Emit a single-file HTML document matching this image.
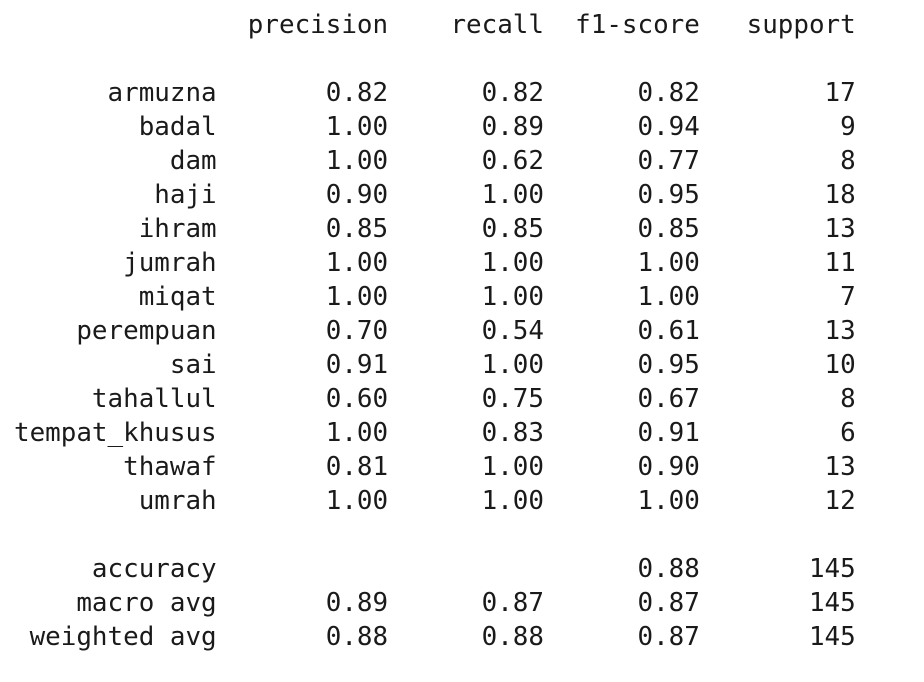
<!DOCTYPE html>
<html>
<head>
<meta charset="utf-8">
<style>
  html, body { margin: 0; padding: 0; background: #ffffff; }
  body { width: 924px; height: 682px; overflow: hidden; position: relative; }
  #report {
    position: absolute; left: 14px; top: 8px; margin: 0;
    font-family: "DejaVu Sans Mono", "Liberation Mono", monospace;
    font-size: 25.9px; line-height: 34px; color: #1a1a1a; white-space: pre;
  }
  .line { display: block; height: 34px; }
</style>
</head>
<body>
<pre id="report"></pre>
<script>
const classes = ["armuzna","badal","dam","haji","ihram","jumrah","miqat","perempuan","sai","tahallul","tempat_khusus","thawaf","umrah"];
const precision = [0.82,1.00,1.00,0.90,0.85,1.00,1.00,0.70,0.91,0.60,1.00,0.81,1.00];
const recall = [0.82,0.89,0.62,1.00,0.85,1.00,1.00,0.54,1.00,0.75,0.83,1.00,1.00];
const f1 = [0.82,0.94,0.77,0.95,0.85,1.00,1.00,0.61,0.95,0.67,0.91,0.90,1.00];
const support = [17,9,8,18,13,11,7,13,10,8,6,13,12];
const headers = ["precision","recall","f1-score","support"];
const summaryNames = ["macro avg","weighted avg"];
const summaryPrecision = [0.89,0.88];
const summaryRecall = [0.87,0.88];
const summaryF1 = [0.87,0.87];
const summarySupport = [145,145];
const accuracy = 0.88;
const accuracySupport = 145;

const W = 13;
const pad = (s, n) => String(s).padStart(n, " ");
const f = v => v.toFixed(2);
const pre = document.getElementById('report');
function addLine(text, name) {
  const s = document.createElement('span');
  s.className = 'line';
  s.textContent = text;
  
  
  pre.appendChild(s);
}
addLine(pad("", W) + " " + headers.map(h => " " + pad(h, 9)).join(""), "header-row");
addLine("", "spacer");
classes.forEach((c, i) => {
  addLine(pad(c, W) + " " + " " + pad(f(precision[i]), 9) + " " + pad(f(recall[i]), 9) + " " + pad(f(f1[i]), 9) + " " + pad(support[i], 9), "row-" + c.replace(/_/g, "-"));
});
addLine("", "spacer");
addLine(pad("accuracy", W) + " " + " " + pad("", 9) + " " + pad("", 9) + " " + pad(f(accuracy), 9) + " " + pad(accuracySupport, 9), "row-accuracy");
summaryNames.forEach((n, i) => {
  addLine(pad(n, W) + " " + " " + pad(f(summaryPrecision[i]), 9) + " " + pad(f(summaryRecall[i]), 9) + " " + pad(f(summaryF1[i]), 9) + " " + pad(summarySupport[i], 9), "row-" + n.replace(/ /g, "-"));
});
</script>
</body>
</html>
